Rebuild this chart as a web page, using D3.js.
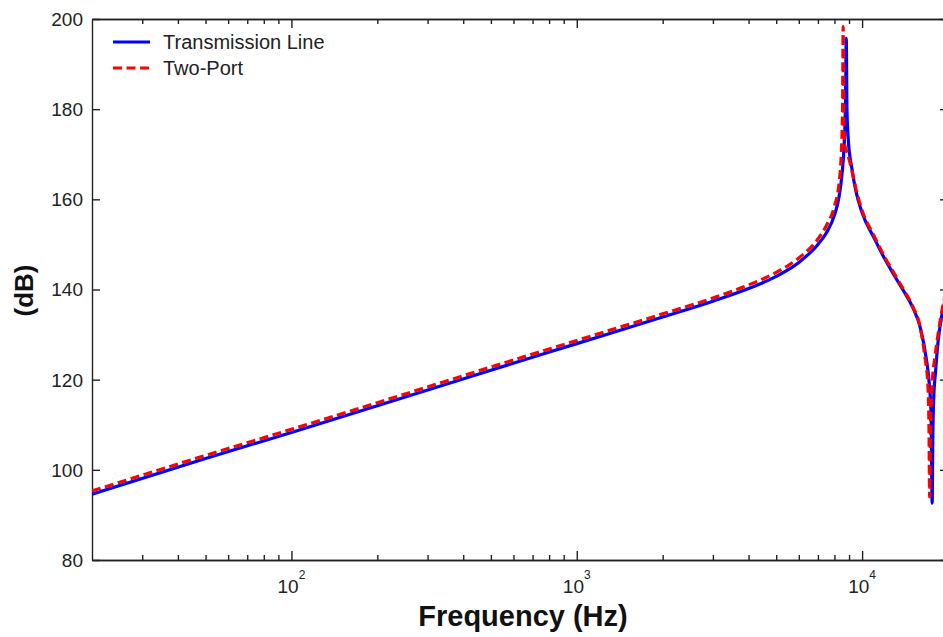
<!DOCTYPE html>
<html>
<head>
<meta charset="utf-8">
<script src="https://cdn.jsdelivr.net/npm/d3@7"></script>
<style>
    body { margin: 0; background: #fff; }
    #chart { width: 943px; height: 637px; overflow: hidden; }
    svg { font-family: "Liberation Sans", Arial, sans-serif; }
    .axis path, .axis line { stroke: #222; stroke-width: 1.4px; }
    .tick-label { font-size: 19px; fill: #222; }
    .axis-title { font-size: 29px; font-weight: bold; fill: #111; }
    .legend text { font-size: 20px; fill: #222; }
</style>
</head>
<body>
<div id="chart"></div>
<script>

// Transmission Line (frequency in Hz, level in dB)
const freqTL = [20, 50, 100, 200, 500, 1000, 2000, 3000, 4000, 5000, 6000, 7000, 7500, 8000, 8300,
    8500, 8650, 8750, 8800, 8850, 8950, 9200, 9500, 10000, 11000, 12000, 13000, 14000, 15000,
    16000, 16800, 17200, 17450, 17600, 17700, 17800, 18100, 18500, 19000, 20000];
const dbTL = [94.6, 102.5, 108.3, 114.2, 122.1, 128.0, 133.9, 137.4, 140.2, 142.9, 146.0, 150.0, 152.6, 156.5, 160.5,
    165.5, 172, 182, 195.7, 180, 173, 167, 162, 157, 151.5, 146.8, 143, 139.6, 136.2,
    131.5, 124.5, 119, 112, 92.6, 108, 115, 122, 129, 134, 140];

// Two-Port
const freqTP = [20, 50, 100, 200, 500, 1000, 2000, 3000, 4000, 5000, 6000, 7000, 7500, 8000, 8300,
    8450, 8540, 8580, 8620, 8700, 8900, 9200, 9500, 10000, 11000, 12000, 13000, 14000, 15000,
    16000, 16600, 17000, 17150, 17250, 17350, 17600, 18000, 18500, 19000, 20000];
const dbTP = [95.3, 103.2, 109.0, 114.9, 122.8, 128.7, 134.6, 138.1, 141.0, 143.8, 147.0, 151.2, 154.2, 158.5, 163.5,
    170, 180, 198.3, 178, 172, 170, 166.5, 162.5, 157.5, 152, 147.2, 143.4, 139.9, 136.4,
    131.5, 125, 119, 110, 94, 108, 119, 125, 130.5, 135, 141];

const seriesNames = ["Transmission Line", "Two-Port"];
const seriesColors = ["#0000ff", "#ff0000"];

const yTicks = [80, 100, 120, 140, 160, 180, 200];
const xMajor = [100, 1000, 10000];
const xMinor = [30, 40, 50, 60, 70, 80, 90, 200, 300, 400, 500, 600, 700, 800, 900,
    2000, 3000, 4000, 5000, 6000, 7000, 8000, 9000];


class lineChart {

    constructor(parentElement) {
        this.parentElement = parentElement;
        this.data = [
            freqTL.map((f, i) => ({f: f, db: dbTL[i]})),
            freqTP.map((f, i) => ({f: f, db: dbTP[i]}))
        ];
        this.initVis();
    }

    initVis() {
        let vis = this;

        vis.margin = {top: 19, right: 0, bottom: 77, left: 92};
        vis.width = 856;
        vis.height = 541;

        vis.svg = d3.select("#" + vis.parentElement).append("svg")
            .attr("width", 943)
            .attr("height", 637)
            .append("g")
            .attr("transform", `translate(${vis.margin.left}, ${vis.margin.top})`);

        // scales
        vis.x = d3.scaleLog()
            .domain([20, 20000])
            .range([0, vis.width]);

        vis.y = d3.scaleLinear()
            .domain([80, 200])
            .range([vis.height, 0]);

        // box + inward ticks on all four sides
        vis.svg.append("g").attr("class", "axis")
            .attr("transform", `translate(0, ${vis.height})`)
            .call(d3.axisBottom(vis.x).tickValues(xMajor).tickSize(-9).tickSizeOuter(0).tickFormat(""));
        vis.svg.append("g").attr("class", "axis")
            .attr("transform", `translate(0, ${vis.height})`)
            .call(d3.axisBottom(vis.x).tickValues(xMinor).tickSize(-5).tickSizeOuter(0).tickFormat(""));
        vis.svg.append("g").attr("class", "axis")
            .call(d3.axisTop(vis.x).tickValues(xMajor).tickSize(-9).tickSizeOuter(0).tickFormat(""));
        vis.svg.append("g").attr("class", "axis")
            .call(d3.axisTop(vis.x).tickValues(xMinor).tickSize(-5).tickSizeOuter(0).tickFormat(""));
        vis.svg.append("g").attr("class", "axis")
            .call(d3.axisLeft(vis.y).tickValues(yTicks).tickSize(-8).tickSizeOuter(0).tickFormat(""));
        vis.svg.append("g").attr("class", "axis")
            .attr("transform", `translate(${vis.width}, 0)`)
            .call(d3.axisRight(vis.y).tickValues(yTicks).tickSize(-8).tickSizeOuter(0).tickFormat(""));

        // y tick labels
        vis.svg.append("g").selectAll("text")
            .data(yTicks)
            .enter().append("text")
            .attr("class", "tick-label")
            .attr("x", -9)
            .attr("y", d => vis.y(d))
            .attr("dy", "0.36em")
            .attr("text-anchor", "end")
            .text(d => d);

        // x tick labels as 10^n
        let xl = vis.svg.append("g").selectAll("text")
            .data(xMajor)
            .enter().append("text")
            .attr("class", "tick-label")
            .attr("x", d => vis.x(d))
            .attr("y", vis.height + 33)
            .attr("text-anchor", "middle");
        xl.append("tspan").text("10");
        xl.append("tspan")
            .attr("dy", -14)
            .style("font-size", "12px")
            .text(d => Math.round(Math.log10(d)));

        // axis titles
        vis.svg.append("text")
            .attr("class", "axis-title")
            .attr("x", vis.width / 2 + 3)
            .attr("y", vis.height + 66)
            .attr("text-anchor", "middle")
            .text("Frequency (Hz)");

        vis.svg.append("text")
            .attr("class", "axis-title")
            .attr("transform", `translate(${-59}, ${vis.height / 2 + 1}) rotate(-90)`)
            .attr("text-anchor", "middle")
            .style("font-size", "26px")
            .text("(dB)");

        vis.svg.append("clipPath").attr("id", "plot-clip")
            .append("rect")
            .attr("width", vis.width)
            .attr("height", vis.height);

        vis.line = d3.line()
            .x(d => vis.x(d.f))
            .y(d => vis.y(d.db))
            .curve(d3.curveMonotoneX);

        this.updateVis();
    }

    updateVis() {
        let vis = this;

        vis.svg.append("g")
            .attr("clip-path", "url(#plot-clip)")
            .selectAll(".series")
            .data(vis.data)
            .enter().append("path")
            .attr("class", "series")
            .attr("fill", "none")
            .attr("stroke", (d, i) => seriesColors[i])
            .attr("stroke-width", 3.2)
            .attr("stroke-dasharray", (d, i) => i === 1 ? "9,4.5" : null)
            .attr("d", d => vis.line(d));

        // legend
        let legend = vis.svg.append("g")
            .attr("class", "legend")
            .attr("transform", "translate(21, 23)");

        let items = legend.selectAll("g")
            .data(seriesNames)
            .enter().append("g")
            .attr("transform", (d, i) => `translate(0, ${i * 26})`);

        items.append("line")
            .attr("x1", 0).attr("x2", 37)
            .attr("stroke", (d, i) => seriesColors[i])
            .attr("stroke-width", 3)
            .attr("stroke-dasharray", (d, i) => i === 1 ? "9,4.5" : null);

        items.append("text")
            .attr("x", 50)
            .attr("dy", "0.36em")
            .text(d => d);
    }
}

new lineChart("chart");

</script>
</body>
</html>
